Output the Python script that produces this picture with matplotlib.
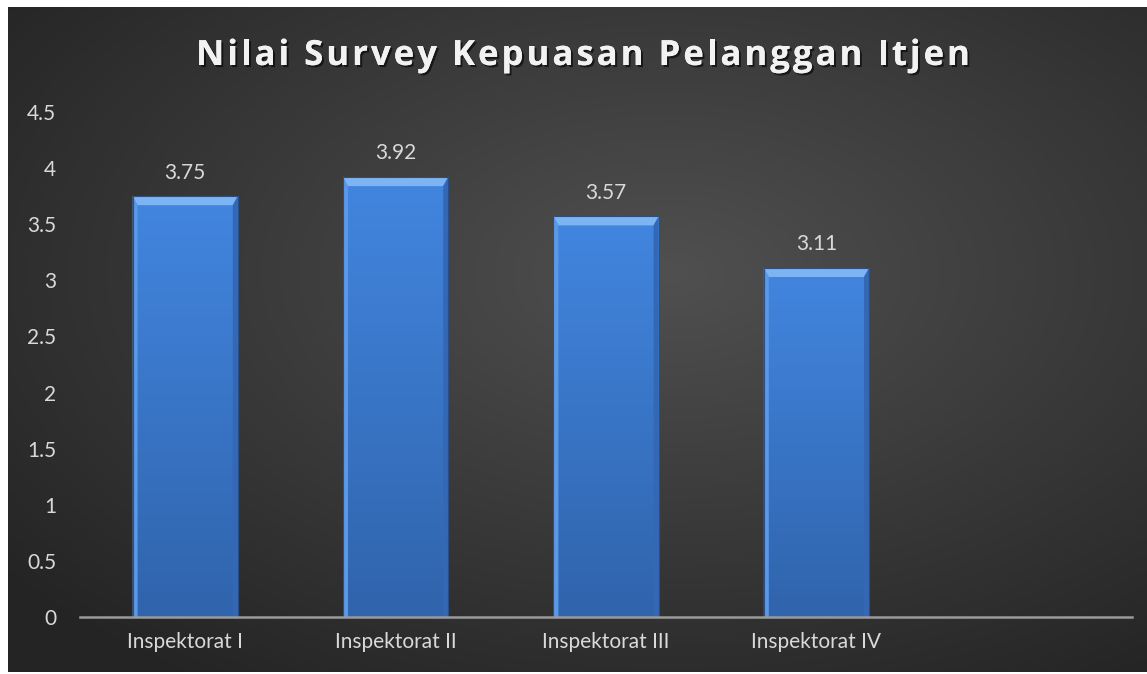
import numpy as np
import matplotlib
matplotlib.use("Agg")
import matplotlib.pyplot as plt
from matplotlib.patches import Polygon
from matplotlib.font_manager import FontProperties
import matplotlib.patheffects as pe

categories = ["Inspektorat I", "Inspektorat II", "Inspektorat III", "Inspektorat IV", ""]
values = [3.75, 3.92, 3.57, 3.11, np.nan]
yticks = [0, 0.5, 1, 1.5, 2, 2.5, 3, 3.5, 4, 4.5]
ytick_labels = ["0", "0.5", "1", "1.5", "2", "2.5", "3", "3.5", "4", "4.5"]
title = "Nilai Survey Kepuasan Pelanggan Itjen"

plt.rcParams["font.family"] = ["Lato", "DejaVu Sans"]
text_color = "#d9d9d9"

W, H = 1147, 674
fig = plt.figure(figsize=(W / 100, H / 100), dpi=100, facecolor="white")

# dark radial-gradient background
bg = fig.add_axes([8 / W, 2 / H, 1 - 8 / W, 1 - 9 / H])
gx, gy = np.meshgrid(np.linspace(0, 1, 400), np.linspace(0, 1, 240))
r = np.sqrt(((gx - 0.58) / 0.75) ** 2 + ((gy - 0.6) / 0.75) ** 2)
r = np.clip(r, 0, 1)
c_in, c_out = np.array([0x50, 0x50, 0x50]) / 255, np.array([0x24, 0x24, 0x24]) / 255
img = c_in[None, None, :] * (1 - r[..., None]) + c_out[None, None, :] * r[..., None]
bg.imshow(img, extent=[0, 1, 0, 1], aspect="auto", origin="lower")
bg.set_axis_off()

left, right, bottom, top = 80, 1132, 617, 112
ax = fig.add_axes([left / W, 1 - bottom / H, (right - left) / W, (bottom - top) / H])
ax.patch.set_alpha(0)

x = np.arange(len(categories))
width = 0.5
bars = ax.bar(x, np.nan_to_num(values), width=width, color="none", edgecolor="none", zorder=2)

ax.set_xlim(-0.5, len(categories) - 0.5)
ax.set_ylim(0, 4.5)

px_x = (right - left) / len(categories)
px_y = (bottom - top) / 4.5
dx, dy = 5 / px_x, 9 / px_y

grad = np.linspace(0, 1, 100)[:, None]
top_c, bot_c = np.array([66, 134, 224]) / 255, np.array([48, 100, 172]) / 255
bar_img = (bot_c[None, None, :] * (1 - grad[..., None]) + top_c[None, None, :] * grad[..., None])
bar_img = np.repeat(bar_img, 2, axis=1)

for b, v in zip(bars, values):
    if np.isnan(v):
        continue
    x0, x1 = b.get_x(), b.get_x() + b.get_width()
    im = ax.imshow(bar_img, extent=[x0, x1, 0, v], origin="lower", aspect="auto", zorder=2)
    im.set_clip_path(b)
    ax.add_patch(Polygon([(x0, v), (x1, v), (x1 - dx, v - dy), (x0 + dx, v - dy)],
                         closed=True, facecolor="#7db4f4", edgecolor="none", zorder=3))
    ax.add_patch(Polygon([(x0, v), (x0 + dx, v - dy), (x0 + dx, 0), (x0, 0)],
                         closed=True, facecolor="#5a98e8", edgecolor="none", zorder=3))
    ax.add_patch(Polygon([(x1, v), (x1 - dx, v - dy), (x1 - dx, 0), (x1, 0)],
                         closed=True, facecolor="#3468b4", edgecolor="none", zorder=3))
    ax.add_patch(plt.Rectangle((x0, 0), x1 - x0, v, facecolor="none",
                               edgecolor="#2a4f85", linewidth=0.8, zorder=4))
    ax.annotate(f"{v:.2f}", (b.get_x() + width / 2, v), xytext=(0, 17),
                textcoords="offset points", ha="center", va="center",
                color=text_color, fontsize=15)

ax.set_xlim(-0.5, len(categories) - 0.5)
ax.set_ylim(0, 4.5)

for s in ["left", "right", "top"]:
    ax.spines[s].set_visible(False)
ax.spines["bottom"].set_color("#9a9a9a")
ax.spines["bottom"].set_linewidth(1.8)
ax.spines["bottom"].set_zorder(5)

ax.set_xticks(x)
ax.set_xticklabels(categories)
ax.set_yticks(yticks)
ax.set_yticklabels(ytick_labels)
ax.tick_params(axis="both", length=0, colors=text_color, labelsize=15)
ax.tick_params(axis="y", pad=17)
ax.tick_params(axis="x", pad=11)

# title with letter spacing, placed character by character
tprop = FontProperties(family=["Open Sans", "DejaVu Sans"], weight="bold", size=25)
renderer = fig.canvas.get_renderer()
spacing = 3.0
widths = []
for ch in title:
    w, _, _ = renderer.get_text_width_height_descent(ch if ch != " " else "a a", tprop, ismath=False)
    if ch == " ":
        wa, _, _ = renderer.get_text_width_height_descent("aa", tprop, ismath=False)
        w = w - wa
    widths.append(w + spacing)
total = sum(widths) - spacing
cx = 583 - total / 2
shadow = [pe.withSimplePatchShadow(offset=(1.5, -1.5), shadow_rgbFace="black", alpha=0.6), pe.Normal()]
for ch, w in zip(title, widths):
    if ch != " ":
        fig.text(cx / W, 1 - 56 / H, ch, ha="left", va="center", color="#f2f2f2",
                 fontproperties=tprop, path_effects=shadow)
    cx += w

fig.savefig("out.png", dpi=100, facecolor="white")
